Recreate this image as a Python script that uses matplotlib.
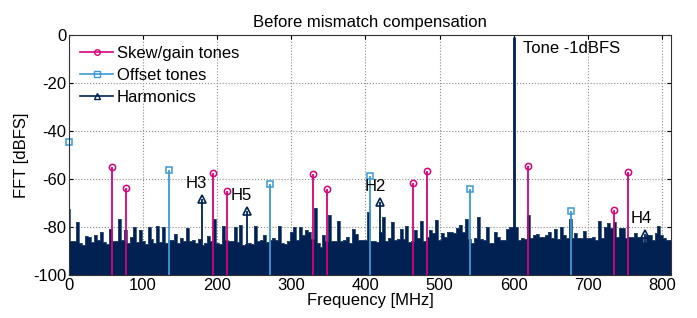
import matplotlib
matplotlib.use("Agg")
import matplotlib.pyplot as plt
import numpy as np

plt.rcParams['font.family'] = ['Liberation Sans', 'DejaVu Sans']
plt.rcParams['axes.unicode_minus'] = False

# noise floor, one value every 4 MHz (0 .. 812 MHz)
noise_f = np.arange(0, 813, 4)
noise_db = [
    -72.5, -85.8, -86.0, -78.0, -86.5, -87.5, -83.6, -84.2, -86.4, -83.3,
    -85.6, -82.2, -86.2, -87.2, -81.0, -86.0, -86.0, -76.7, -85.5, -81.2,
    -86.5, -84.0, -80.1, -86.2, -81.2, -85.8, -87.0, -79.9, -85.0, -86.5,
    -79.6, -86.2, -79.9, -86.6, -85.4, -85.2, -83.0, -86.8, -84.5, -86.0,
    -80.5, -86.0, -85.5, -86.5, -85.0, -87.5, -86.8, -83.6, -86.0, -76.7,
    -86.8, -87.0, -79.4, -85.6, -86.0, -85.8, -80.1, -86.1, -79.0, -87.5,
    -87.0, -86.8, -87.0, -79.4, -86.0, -85.4, -83.3, -86.1, -85.2, -84.7,
    -85.4, -79.4, -86.5, -87.2, -85.8, -82.2, -80.1, -85.4, -79.9,
    -83.3, -81.2, -82.0, -85.0, -72.2, -86.5, -88.2, -83.3, -85.8, -75.0,
    -85.8, -86.0, -77.5, -86.0, -85.6, -84.0, -86.8, -81.0, -83.0, -85.4,
    -85.4, -85.4, -73.6, -86.0, -86.0, -86.1, -82.0, -75.7, -86.0, -84.7,
    -77.8, -85.6, -85.0, -81.0, -85.0, -79.4, -86.1, -86.0, -81.2,
    -84.7, -77.5, -86.0, -84.0, -81.2, -82.6, -77.1, -85.4, -82.6, -84.0,
    -82.0, -82.0, -82.6, -80.5, -79.1, -82.0, -76.7, -85.0, -86.8, -84.5,
    -75.8, -85.0, -85.2, -79.9, -86.5, -86.8, -82.2, -84.3, -85.4, -85.6,
    -81.0, -80.0, -80.0, -79.9, -85.4, -84.7, -85.0, -75.0, -84.5, -83.3,
    -83.0,
    -84.3, -84.0, -83.5, -82.2, -84.7, -80.8, -85.0, -79.9, -83.3, -84.7,
    -76.7, -84.7, -82.6, -84.7, -84.7, -81.8, -84.7, -84.5, -84.0, -85.4,
    -77.5, -84.7, -79.9, -78.5, -80.5, -78.0, -84.0, -80.3, -80.3, -84.7,
    -84.0, -84.0, -82.6, -84.0, -84.0, -86.1, -83.3, -83.3, -85.4, -82.6,
    -79.6, -83.3, -84.7, -85.4, -85.4,
]

skew_f = [58.3, 77.1, 193.75, 212.5, 329.2, 347.9, 464.6, 483.3, 618.75, 735.4, 754.2]
skew_db = [-54.9, -63.9, -57.6, -65.0, -57.8, -64.0, -61.7, -56.5, -54.5, -73.0, -57.2]

offset_f = [0.0, 135.4, 270.8, 406.25, 541.7, 677.1]
offset_db = [-44.5, -56.4, -62.2, -58.6, -64.2, -73.5]

harm_f = [419, 180, 777, 240]
harm_db = [-69.4, -68.5, -82.8, -73.3]
harm_lbl = ['H2', 'H3', 'H4', 'H5']
harm_lbl_x = [413, 172, 772, 233]
harm_lbl_y = [-63.2, -61.7, -76.4, -67.0]

tone_f = 600
tone_db = -1

navy = '#002152'
pink = '#D9007A'
lblue = '#3A9AD6'
fs = 12

fig = plt.figure(figsize=(6.97, 3.18), dpi=100)
ax = fig.add_axes([0.099, 0.135, 0.864, 0.755])

nf = np.array(noise_f)
nd = np.array(noise_db)
ax.fill_between(nf, -100, nd, step='mid', color=navy, lw=0)
ax.step(nf, nd, where='mid', color='#2a4a78', lw=0.6)

# tone
ax.vlines(tone_f, -100, tone_db, color=navy, lw=2)

ax.vlines(skew_f, -100, skew_db, color=pink, lw=1.3)
ax.vlines(offset_f, -100, offset_db, color=lblue, lw=1.3)
ax.vlines(harm_f, -100, harm_db, color=navy, lw=1.3)

ax.plot(skew_f, skew_db, 'o', ms=4.5, mfc='none', mec=pink, mew=1.1, clip_on=False)
ax.plot(offset_f, offset_db, 's', ms=5, mfc='none', mec=lblue, mew=1.1, clip_on=False)
ax.plot(harm_f, harm_db, '^', ms=6, mfc='none', mec=navy, mew=1.2, clip_on=False)

# legend entries
ax.plot([], [], '-o', color=pink, ms=4, mfc='none', lw=1.2, label='Skew/gain tones')
ax.plot([], [], '-s', color=lblue, ms=4.5, mfc='none', lw=1.2, label='Offset tones')
ax.plot([], [], '-^', color=navy, ms=5, mfc='none', lw=1.2, label='Harmonics')
ax.legend(loc='upper left', frameon=False, fontsize=fs, handlelength=2.0,
          handletextpad=0.2, labelspacing=0.42, borderaxespad=0.25)

for t, x, y in zip(harm_lbl, harm_lbl_x, harm_lbl_y):
    ax.text(x, y, t, ha='center', va='center', fontsize=fs)
ax.text(612, -5.5, 'Tone -1dBFS', ha='left', va='center', fontsize=fs)

ax.set_xlim(0, 812.5)
ax.set_ylim(-100, 0)
ax.set_xticks(range(0, 801, 100))
ax.set_yticks(range(-100, 1, 20))
ax.grid(True, ls=':', color='#8a8a8a', lw=0.8)
ax.set_axisbelow(True)
ax.tick_params(direction='in', top=True, right=True, labelsize=fs, length=3, pad=2)
for s in ax.spines.values():
    s.set_color('#333333')
    s.set_linewidth(0.8)

ax.set_xlabel('Frequency [MHz]', fontsize=fs, labelpad=0)
ax.set_ylabel('FFT [dBFS]', fontsize=fs, labelpad=3)
ax.set_title('Before mismatch compensation', fontsize=fs, pad=6)

fig.savefig('out.png', dpi=100)
